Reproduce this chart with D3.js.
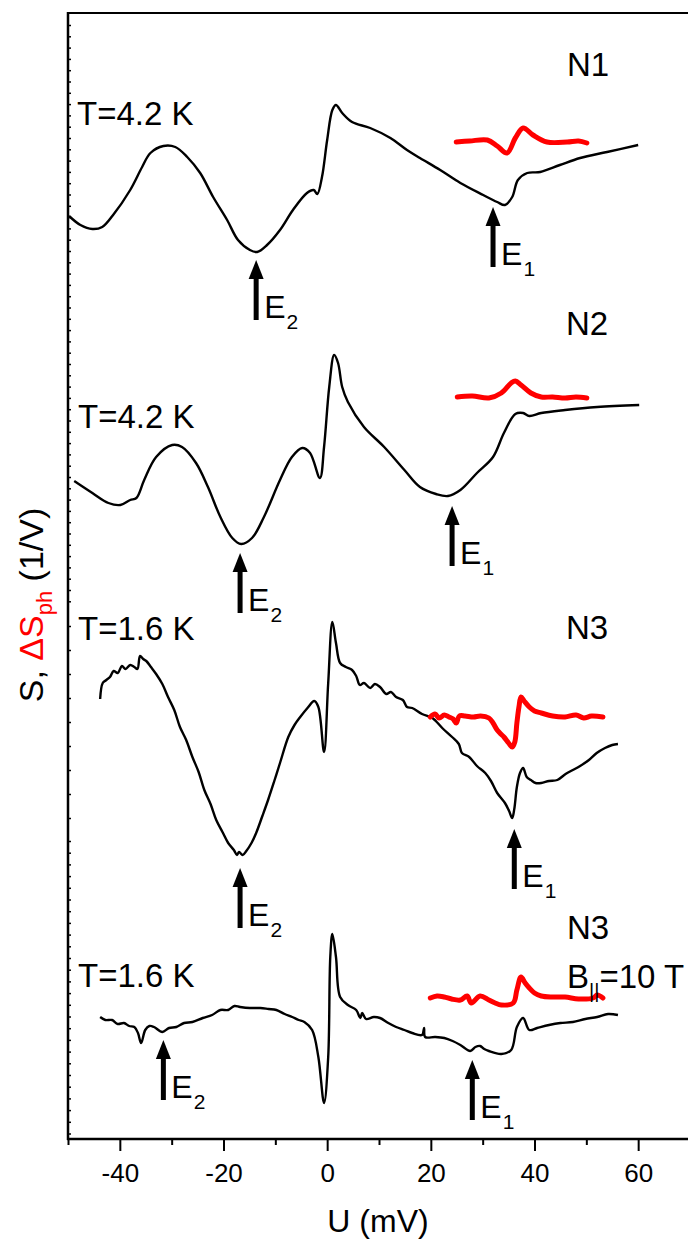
<!DOCTYPE html>
<html>
<head>
<meta charset="utf-8">
<script src="https://cdn.jsdelivr.net/npm/d3@7"></script>
<style>
  html, body { margin: 0; padding: 0; background: #fff; }
  svg { display: block; }
  text { font-family: "Liberation Sans", Arial, Helvetica, sans-serif; }
</style>
</head>
<body>
<svg id="chart" width="688" height="1240"></svg>
<script>
// ---------------- DATA (U in mV, S in arbitrary offset units) ----------------
const xTickLabels = [-40, -20, 0, 20, 40, 60];
const xMinorTicks = [-50, -30, -10, 10, 30, 50];

const panelNames = ["N1", "N2", "N3", "N3"];
const panelTemps = ["T=4.2 K", "T=4.2 K", "T=1.6 K", "T=1.6 K"];

const n1Black = [[-49.8,92.3],[-47.6,91.4],[-45.3,91.0],[-43.4,91.2],[-41.3,92.4],[-38.0,94.9],[-35.7,97.2],[-34.1,98.6],[-31.6,99.3],[-29.3,99.2],[-27.0,98.2],[-24.5,96.6],[-22.0,94.2],[-19.3,91.9],[-17.2,89.9],[-14.9,88.9],[-13.5,88.7],[-11.6,89.4],[-9.1,90.9],[-6.6,92.9],[-3.9,94.6],[-2.6,94.9],[-1.9,94.5],[-1.0,96.2],[0.0,99.9],[1.0,102.9],[1.7,103.4],[2.9,102.6],[4.8,101.7],[8.3,101.1],[12.2,100.1],[15.4,98.9],[17.9,98.1],[21.8,96.9],[25.7,95.6],[30.1,94.4],[32.8,93.7],[34.3,93.4],[35.7,94.2],[36.8,95.9],[38.6,96.6],[41.1,96.7],[44.9,97.4],[48.8,98.1],[54.0,98.7],[60.0,99.4]];
const n1Red = [[24.9,99.7],[27.5,99.8],[30.9,99.9],[32.8,99.3],[34.7,98.6],[36.3,100.1],[37.8,101.1],[39.7,100.4],[42.4,99.7],[46.3,99.7],[48.5,99.8],[50.1,99.6]];

const n2Black = [[-48.8,65.8],[-45.3,64.6],[-42.2,63.6],[-39.9,63.4],[-38.0,63.9],[-36.8,64.1],[-35.3,65.9],[-33.0,68.2],[-29.9,69.4],[-28.0,69.2],[-25.3,67.6],[-23.0,65.2],[-20.6,62.2],[-18.3,60.1],[-16.6,59.5],[-14.5,60.1],[-12.2,62.2],[-9.1,65.9],[-6.8,68.2],[-4.8,69.1],[-3.3,68.6],[-1.4,66.1],[-0.6,69.2],[0.4,75.2],[1.35,78.4],[2.1,77.6],[2.9,75.2],[4.0,73.7],[7.1,71.2],[11.0,69.2],[14.9,66.9],[17.9,65.2],[21.0,64.5],[23.3,64.3],[25.7,64.9],[28.9,66.6],[32.0,68.2],[34.1,70.6],[36.3,72.5],[37.8,72.6],[39.0,72.3],[41.3,72.6],[45.9,72.9],[52.1,73.2],[60.2,73.4]];
const n2Red = [[25.1,74.2],[28.0,74.3],[31.2,74.1],[33.6,74.6],[35.5,75.6],[36.3,75.8],[37.4,75.4],[39.3,74.6],[41.3,74.2],[43.5,74.2],[45.9,74.1],[48.0,74.2],[50.1,74.1]];

const n3Black = [[-43.8,44.0],[-43.3,45.6],[-42.6,45.9],[-41.9,46.2],[-41.2,46.8],[-40.4,46.6],[-39.6,47.3],[-38.9,47.0],[-38.0,47.4],[-37.2,47.2],[-36.6,47.0],[-36.1,48.3],[-35.5,48.0],[-34.9,47.8],[-34.0,47.2],[-33.0,46.5],[-31.8,45.5],[-30.7,44.2],[-29.5,42.9],[-28.4,41.2],[-27.2,39.9],[-26.0,38.2],[-24.8,36.7],[-23.7,34.9],[-22.5,33.5],[-21.4,31.9],[-20.2,30.7],[-19.1,29.6],[-18.0,28.9],[-17.4,28.4],[-17.0,28.7],[-16.3,28.4],[-15.6,28.8],[-14.6,29.6],[-13.7,30.6],[-12.5,32.3],[-11.4,33.9],[-10.2,35.8],[-9.1,37.6],[-7.5,40.2],[-6.3,41.4],[-5.2,42.2],[-3.8,43.1],[-2.5,43.8],[-1.7,43.2],[-0.6,38.7],[0.2,45.6],[1.0,51.7],[1.7,49.6],[2.5,47.6],[3.6,47.2],[4.8,46.9],[5.6,46.3],[6.3,45.4],[7.1,45.6],[8.3,45.1],[9.2,45.5],[10.2,45.2],[11.4,44.5],[12.3,44.7],[13.3,44.2],[14.6,43.9],[15.4,43.2],[16.4,43.1],[18.3,42.5],[20.3,42.1],[22.2,41.1],[24.1,40.2],[25.4,39.5],[26.0,38.6],[27.4,38.2],[28.9,37.3],[30.5,36.6],[31.6,35.8],[32.8,34.6],[34.3,33.6],[35.1,32.8],[35.7,32.1],[36.1,33.0],[36.6,35.2],[37.2,36.6],[37.8,37.1],[38.5,36.2],[39.3,35.9],[40.2,35.6],[41.3,35.6],[42.8,35.8],[44.4,35.9],[46.0,36.5],[47.4,36.9],[48.8,37.3],[50.5,37.9],[52.0,38.6],[53.6,39.1],[55.0,39.4],[56.1,39.5]];
const n3Red = [[19.9,42.2],[20.8,42.5],[21.6,42.1],[22.6,42.4],[23.5,42.2],[24.3,42.0],[24.9,41.6],[25.5,42.3],[26.6,42.3],[28.2,42.2],[29.6,42.3],[31.2,42.1],[32.0,41.6],[32.8,40.9],[33.5,40.5],[34.1,40.2],[35.0,39.6],[35.7,39.2],[36.2,39.7],[36.6,41.6],[37.0,43.2],[37.4,44.2],[38.0,43.8],[39.0,43.2],[40.0,42.8],[41.3,42.6],[43.5,42.3],[45.9,42.2],[48.0,42.4],[49.5,42.1],[51.0,42.3],[53.2,42.2]];

const n4Black = [[-43.8,12.2],[-42.8,11.9],[-41.5,11.9],[-40.4,11.5],[-39.2,11.6],[-38.2,11.3],[-37.2,11.2],[-36.5,10.6],[-35.9,9.6],[-35.1,10.9],[-34.3,11.3],[-33.4,11.2],[-31.8,10.7],[-30.5,11.1],[-29.1,11.2],[-27.6,11.6],[-26.0,11.7],[-24.0,12.1],[-22.2,12.4],[-20.6,12.9],[-19.1,12.9],[-17.9,13.3],[-16.8,13.2],[-14.9,13.1],[-12.9,13.1],[-11.3,13.0],[-9.8,12.9],[-8.2,12.5],[-6.75,12.2],[-5.5,11.9],[-4.4,11.7],[-2.9,10.9],[-1.7,8.2],[-0.6,3.6],[0.2,8.2],[0.6,18.2],[1.0,20.5],[1.7,18.2],[2.5,14.2],[4.0,13.4],[5.6,12.9],[6.4,12.1],[6.75,12.6],[7.5,12.0],[9.0,12.2],[10.2,12.1],[11.8,11.6],[13.3,11.2],[14.9,10.9],[16.4,10.6],[18.3,10.4],[18.7,11.1],[18.9,10.2],[20.8,10.2],[22.6,10.1],[24.2,9.8],[25.7,9.4],[27.6,8.8],[28.6,9.2],[29.5,9.3],[30.3,9.0],[31.2,8.8],[33.6,8.5],[35.5,8.9],[36.6,11.2],[37.8,12.1],[39.0,10.9],[40.5,11.1],[42.8,11.4],[45.0,11.6],[47.4,11.7],[49.8,12.0],[52.1,12.2],[54.2,12.5],[56.1,12.4]];
const n4Red = [[19.9,14.1],[21.2,14.3],[22.6,14.2],[24.0,14.0],[25.7,13.9],[27.0,14.3],[27.8,13.6],[29.5,14.3],[31.2,13.9],[32.4,13.6],[33.6,13.4],[35.9,13.6],[36.6,14.9],[37.4,16.2],[38.2,15.6],[39.0,15.1],[40.0,14.6],[41.3,14.3],[43.5,14.2],[45.9,14.2],[48.5,14.0],[51.3,14.1],[52.1,14.4],[53.2,14.1]];

// arrows: [U (mV), S at tip, label, subscript]
const n1Arrows = [[-13.7, 87.9, "E", "2"], [32.0, 93.2, "E", "1"]];
const n2Arrows = [[-16.8, 58.6, "E", "2"], [24.1, 63.3, "E", "1"]];
const n3Arrows = [[-16.8, 27.1, "E", "2"], [36.1, 31.0, "E", "1"]];
const n4Arrows = [[-31.6, 9.9, "E", "2"], [28.0, 7.9, "E", "1"]];

// left-axis tick groups (several stacked layers sharing one axis line)
const leftTicksA = d3.range(111.4, 53.5, -1.13);
const leftTicksB = d3.range(51.3, 32.0, -2.4);
const leftTicksC = d3.range(29.8, 0.5, -1.17);

// ---------------- DRAWING ----------------
const svg = d3.select("#chart");
const L = 68, R = 690, T = 13, B = 1139;
const x = d3.scaleLinear().domain([-50, 70]).range([L, R]);
const y = d3.scaleLinear().domain([0, 112.6]).range([B, T]);

const line = d3.line().x(d => x(d[0])).y(d => y(d[1])).curve(d3.curveCatmullRom.alpha(0.5));

// frame top
svg.append("line").attr("x1", L).attr("x2", R).attr("y1", T).attr("y2", T)
  .attr("stroke", "#000").attr("stroke-width", 2);
svg.append("line").attr("x1", R).attr("x2", R).attr("y1", T).attr("y2", B)
  .attr("stroke", "#000").attr("stroke-width", 2);

// left axis ticks (inward)
[leftTicksA, leftTicksB, leftTicksC].forEach(vals => {
  const ax = d3.axisRight(y).tickValues(vals).tickSize(3).tickFormat("");
  const g = svg.append("g").attr("transform", `translate(${L},0)`).call(ax);
  g.select(".domain").remove();
  g.selectAll(".tick line").attr("stroke", "#000").attr("stroke-width", 1.5);
});
svg.append("line").attr("x1", L).attr("x2", L).attr("y1", T - 1).attr("y2", B + 1)
  .attr("stroke", "#000").attr("stroke-width", 2.5);

// bottom axis
const xMinor = d3.axisBottom(x).tickValues(xMinorTicks).tickSize(6).tickFormat("");
const gm = svg.append("g").attr("transform", `translate(0,${B})`).call(xMinor);
gm.select(".domain").remove();
gm.selectAll(".tick line").attr("stroke", "#000").attr("stroke-width", 2);

const xMajor = d3.axisBottom(x).tickValues(xTickLabels).tickSize(12).tickPadding(13)
  .tickFormat(d => d);
const gx = svg.append("g").attr("transform", `translate(0,${B})`).call(xMajor);
gx.select(".domain").remove();
gx.selectAll(".tick line").attr("stroke", "#000").attr("stroke-width", 2);
gx.selectAll(".tick text").attr("font-size", 26).attr("fill", "#000")
  .attr("font-family", '"Liberation Sans", Arial, sans-serif');
svg.append("line").attr("x1", L - 1).attr("x2", R).attr("y1", B).attr("y2", B)
  .attr("stroke", "#000").attr("stroke-width", 2.5);

// axis titles
svg.append("text").attr("x", 378).attr("y", 1232).attr("text-anchor", "middle")
  .attr("font-size", 32).attr("fill", "#000").text("U (mV)");

const yl = svg.append("text").attr("transform", "translate(43,605) rotate(-90)")
  .attr("text-anchor", "middle").attr("font-size", 34).attr("fill", "#000");
yl.append("tspan").text("S, ");
yl.append("tspan").attr("fill", "#ff0000").text("\u0394S");
yl.append("tspan").attr("fill", "#ff0000").attr("font-size", 22).attr("dy", 9).text("ph");
yl.append("tspan").attr("dy", -9).text(" (1/V)");

// curves
const blacks = [n1Black, n2Black, n3Black, n4Black];
const reds = [n1Red, n2Red, n3Red, n4Red];
blacks.forEach(d => svg.append("path").datum(d).attr("d", line)
  .attr("fill", "none").attr("stroke", "#000").attr("stroke-width", 2.4)
  .attr("stroke-linejoin", "round"));
reds.forEach(d => svg.append("path").datum(d).attr("d", line)
  .attr("fill", "none").attr("stroke", "#ff0000").attr("stroke-width", 5)
  .attr("stroke-linejoin", "round").attr("stroke-linecap", "round"));

// arrows
const arrowLen = 60, headH = 19, headW = 15;
[n1Arrows, n2Arrows, n3Arrows, n4Arrows].forEach(arr => {
  arr.forEach(a => {
    const ax0 = x(a[0]), tip = y(a[1]), bot = tip + arrowLen;
    svg.append("line").attr("x1", ax0).attr("x2", ax0).attr("y1", tip + headH - 3).attr("y2", bot)
      .attr("stroke", "#000").attr("stroke-width", 5);
    svg.append("path")
      .attr("d", `M${ax0},${tip} L${ax0 + headW / 2},${tip + headH} L${ax0 - headW / 2},${tip + headH} Z`)
      .attr("fill", "#000");
    const t = svg.append("text").attr("x", ax0 + 8).attr("y", bot - 2)
      .attr("font-size", 32).attr("fill", "#000");
    t.append("tspan").text(a[2]);
    t.append("tspan").attr("font-size", 21).attr("dy", 11).attr("dx", 1).text(a[3]);
  });
});

// panel labels
const tempPos = [[77, 125], [78, 428], [78, 640], [78, 987]];
const namePos = [[567, 76], [566, 335], [566, 639], [567, 939]];
panelTemps.forEach((s, i) => svg.append("text").attr("x", tempPos[i][0]).attr("y", tempPos[i][1])
  .attr("font-size", 33).attr("fill", "#000").text(s));
panelNames.forEach((s, i) => svg.append("text").attr("x", namePos[i][0]).attr("y", namePos[i][1])
  .attr("font-size", 33).attr("fill", "#000").text(s));
const bt = svg.append("text").attr("x", 567).attr("y", 988).attr("font-size", 33).attr("fill", "#000");
bt.append("tspan").text("B");
bt.append("tspan").attr("font-size", 20).attr("dy", 10).text("||");
bt.append("tspan").attr("dy", -10).text("=10 T");
</script>
</body>
</html>
